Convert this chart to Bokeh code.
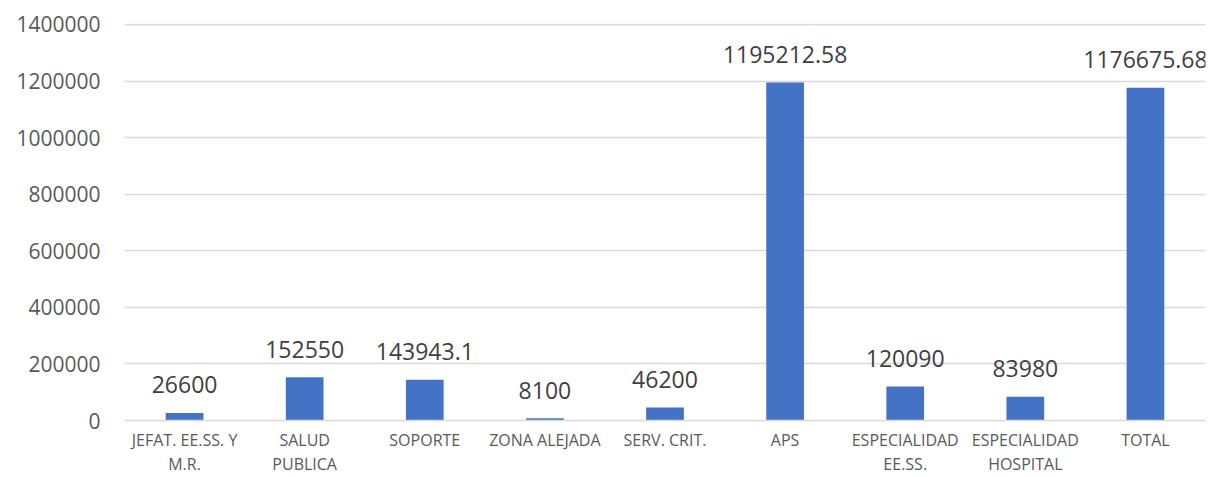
from bokeh.plotting import figure
from bokeh.models import ColumnDataSource, Range1d, SingleIntervalTicker, NumeralTickFormatter, FactorRange
from bokeh.core.properties import value
from bokeh.embed import file_html
from bokeh.resources import INLINE

categories = ["JEFAT. EE.SS. Y\nM.R.", "SALUD\nPUBLICA", "SOPORTE", "ZONA ALEJADA",
              "SERV. CRIT.", "APS", "ESPECIALIDAD\nEE.SS.", "ESPECIALIDAD\nHOSPITAL", "TOTAL"]
values = [26600, 152550, 143943.1, 8100, 46200, 1195212.58, 120090, 83980, 1176675.68]
labels = [str(v) for v in values]

src = ColumnDataSource(dict(cat=categories, val=values, lab=labels))

p = figure(x_range=FactorRange(*categories), y_range=Range1d(0, 1403526),
           width=1211, height=477, output_backend="svg", toolbar_location=None,
           min_border_left=124, min_border_right=6, min_border_top=23, min_border_bottom=56)
p.outline_line_color = None
p.background_fill_color = "white"
p.border_fill_color = "white"

p.vbar(x="cat", top="val", width=0.314, source=src, fill_color="#4472C4", line_color=None)
p.text(x="cat", y="val", text="lab", source=src, text_align="center", text_baseline="middle",
       y_offset=-28, text_font=value("Open Sans"), text_font_size="23px", text_color="#404040")

p.yaxis.ticker = SingleIntervalTicker(interval=200000)
p.yaxis.formatter = NumeralTickFormatter(format="0")
p.yaxis.axis_line_color = None
p.yaxis.major_tick_line_color = None
p.yaxis.minor_tick_line_color = None
p.yaxis.major_tick_out = 0
p.yaxis.major_tick_in = 0
p.yaxis.minor_tick_out = 0
p.yaxis.major_label_standoff = 24
p.yaxis.major_label_text_font = "Open Sans"
p.yaxis.major_label_text_font_size = "21px"
p.yaxis.major_label_text_color = "#595959"

p.xaxis.axis_line_color = "#d9d9d9"
p.xaxis.axis_line_width = 1.5
p.xaxis.major_tick_line_color = None
p.xaxis.minor_tick_line_color = None
p.xaxis.major_tick_out = 0
p.xaxis.major_tick_in = 0
p.xaxis.minor_tick_out = 0
p.xaxis.major_label_standoff = 8
p.xaxis.major_label_text_font = "Open Sans"
p.xaxis.major_label_text_font_size = "16px"
p.xaxis.major_label_text_color = "#595959"
p.xaxis.major_label_text_line_height = 1.1

p.xgrid.grid_line_color = None
p.ygrid.grid_line_color = "#d9d9d9"
p.ygrid.grid_line_width = 1.5

open("out.html", "w").write(file_html(p, INLINE))
